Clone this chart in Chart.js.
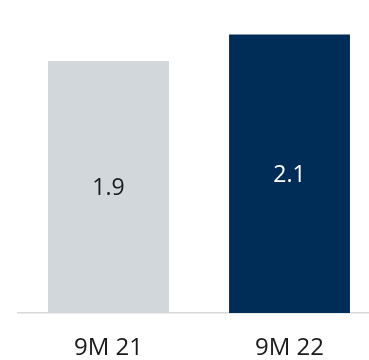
<!DOCTYPE html>
<html>
<head>
<meta charset="utf-8">
<script src="https://cdn.jsdelivr.net/npm/chart.js@4.4.0/dist/chart.umd.min.js"></script>
<style>
  html, body { margin: 0; padding: 0; background: #fff; overflow: hidden; }
  #wrap { width: 380px; height: 360px; }
</style>
</head>
<body>
<div id="wrap"><canvas id="chart" width="380" height="360"></canvas></div>
<script>
// periods on the x-axis
const periods = ['9M 21', '9M 22'];
// reported values per period
const values = [1.9, 2.1];
// one fill per bar: prior year grey, current year navy
const barColors = ['#d2d7db', '#002c58'];
const labelColors = ['#1a1a1a', '#ffffff'];

// writes each value in the middle of its bar
const centerLabels = {
    id: 'centerLabels',
    afterDatasetsDraw(chart) {
        const { ctx } = chart;
        const meta = chart.getDatasetMeta(0);
        ctx.save();
        ctx.font = '23px "Open Sans"';
        ctx.textAlign = 'center';
        ctx.textBaseline = 'middle';
        meta.data.forEach((bar, i) => {
            ctx.fillStyle = labelColors[i];
            ctx.fillText(values[i].toFixed(1), bar.x, (bar.y + bar.base) / 2 + 1.5);
        });
        ctx.restore();
    }
};

const ctx = document.getElementById('chart').getContext('2d');
const chart = new Chart(ctx, {
    type: 'bar',
    data: {
        labels: periods,
        datasets: [{
            data: values,
            backgroundColor: barColors,
            borderWidth: 0,
            categoryPercentage: 1,
            barPercentage: 0.668
        }]
    },
    options: {
        responsive: false,
        animation: false,
        layout: { padding: { left: 18, right: 0, top: 8, bottom: 0 } },
        plugins: { legend: { display: false }, tooltip: { enabled: false } },
        scales: {
            x: {
                // keep the axis band a fixed height so the baseline sits at 313
                afterFit(scale) { scale.height = 47; },
                grid: { display: false, drawTicks: false },
                border: { display: true, color: '#d9d9d9', width: 1.5 },
                ticks: {
                    color: '#1a1a1a',
                    font: { family: 'Open Sans', size: 24 },
                    padding: 21
                }
            },
            y: {
                display: false,
                min: 0,
                max: 2.3
            }
        }
    },
    plugins: [centerLabels]
});
</script>
</body>
</html>
